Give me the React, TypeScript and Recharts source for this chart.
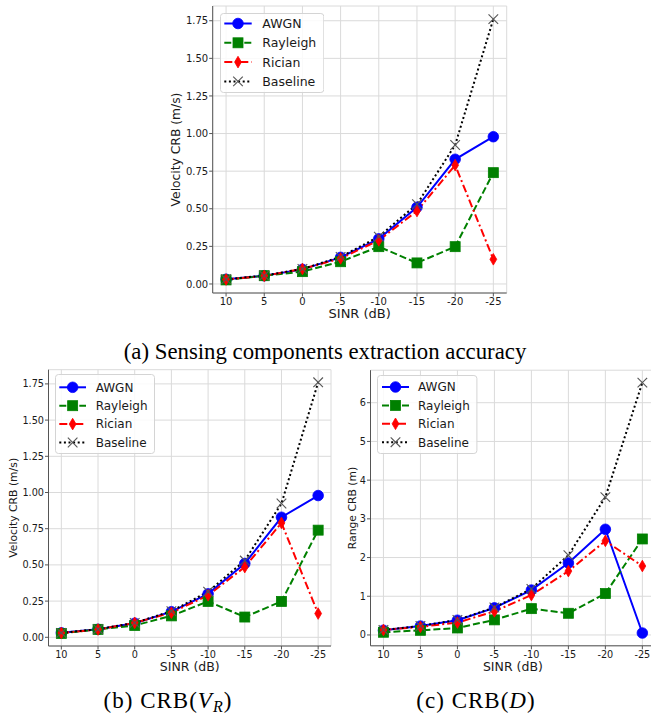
import React from 'react';
import { LineChart, Line, XAxis, YAxis, CartesianGrid, Legend, Label } from 'recharts';

// ---------- data ----------
const sinr = [10, 5, 0, -5, -10, -15, -20, -25];
const sinrTicks = [10, 5, 0, -5, -10, -15, -20, -25];

const velAwgn = [0.031, 0.055, 0.097, 0.177, 0.3, 0.51, 0.829, 0.979];
const velRayleigh = [0.027, 0.055, 0.082, 0.148, 0.248, 0.14, 0.248, 0.74];
const velRician = [0.03, 0.054, 0.1, 0.17, 0.29, 0.485, 0.79, 0.164];
const velBaseline = [0.031, 0.056, 0.1, 0.18, 0.315, 0.53, 0.924, 1.761];

const rngAwgn = [0.12, 0.23, 0.38, 0.7, 1.16, 1.86, 2.73, 0.05];
const rngRayleigh = [0.07, 0.12, 0.18, 0.39, 0.68, 0.56, 1.07, 2.48];
const rngRician = [0.13, 0.21, 0.32, 0.61, 1.03, 1.65, 2.43, 1.78];
const rngBaseline = [0.13, 0.23, 0.39, 0.71, 1.19, 2.06, 3.56, 6.52];

const velTicks = [0, 0.25, 0.5, 0.75, 1, 1.25, 1.5, 1.75];
const rngTicks = [0, 1, 2, 3, 4, 5, 6];

const seriesNames = ['AWGN', 'Rayleigh', 'Rician', 'Baseline'];

const velData = sinr.map((s, i) => ({
  sinr: s,
  awgn: velAwgn[i],
  rayleigh: velRayleigh[i],
  rician: velRician[i],
  baseline: velBaseline[i],
}));
const rngData = sinr.map((s, i) => ({
  sinr: s,
  awgn: rngAwgn[i],
  rayleigh: rngRayleigh[i],
  rician: rngRician[i],
  baseline: rngBaseline[i],
}));

// ---------- styles ----------
const FONT = 'DejaVu Sans';
const TEXT = '#1a1a1a';
const FRAME = '#555555';
const GRID = '#dadada';
const xDomain = [-26.75, 11.75];
const velDomain = [-0.06, 1.848];
const rngDomain = [-0.28, 6.84];

type Marker = 'circle' | 'square' | 'diamond' | 'x';
const series = [
  { key: 'awgn', name: seriesNames[0], color: '#0000ff', dash: undefined as string | undefined, marker: 'circle' as Marker },
  { key: 'rayleigh', name: seriesNames[1], color: '#008000', dash: '7 3', marker: 'square' as Marker },
  { key: 'rician', name: seriesNames[2], color: '#ff0000', dash: '8 3 2 3', marker: 'diamond' as Marker },
  { key: 'baseline', name: seriesNames[3], color: '#000000', dash: '2 2.6', marker: 'x' as Marker },
];

function drawMarker(m: Marker, cx: number, cy: number, color: string, key?: string) {
  if (cx == null || cy == null || isNaN(cx) || isNaN(cy)) return <g key={key} />;
  if (m === 'circle') return <circle key={key} cx={cx} cy={cy} r={5.3} fill={color} stroke={color} strokeWidth={0.8} />;
  if (m === 'square') return <rect key={key} x={cx - 5} y={cy - 5} width={10} height={10} fill={color} stroke={color} strokeWidth={0.8} />;
  if (m === 'diamond')
    return (
      <path key={key} d={`M${cx},${cy - 5.8} L${cx + 3.4},${cy} L${cx},${cy + 5.8} L${cx - 3.4},${cy} Z`} fill={color} stroke={color} strokeWidth={0.8} />
    );
  return (
    <g key={key}>
      <line x1={cx - 4.8} y1={cy - 4.8} x2={cx + 4.8} y2={cy + 4.8} stroke="#555" strokeWidth={1.1} />
      <line x1={cx - 4.8} y1={cy + 4.8} x2={cx + 4.8} y2={cy - 4.8} stroke="#555" strokeWidth={1.1} />
    </g>
  );
}

type LegendCfg = {
  left: number; top: number; w: number; h: number;
  row0: number; gap: number; lx0: number; lx1: number; tx: number; fs: number;
};

function LegendBox({ cfg }: { cfg: LegendCfg }) {
  return (
    <svg width={cfg.w} height={cfg.h} style={{ display: 'block' }}>
      <rect x={0.5} y={0.5} width={cfg.w - 1} height={cfg.h - 1} rx={3} ry={3} fill="#ffffff" fillOpacity={0.85} stroke="#d4d4d4" strokeWidth={1} />
      {series.map((s, i) => {
        const y = cfg.row0 + i * cfg.gap;
        const mx = (cfg.lx0 + cfg.lx1) / 2;
        return (
          <g key={s.key}>
            <line x1={cfg.lx0} x2={cfg.lx1} y1={y} y2={y} stroke={s.color} strokeWidth={2} strokeDasharray={s.dash} />
            {drawMarker(s.marker, mx, y, s.color)}
            <text x={cfg.tx} y={y} dy="0.36em" fontSize={cfg.fs} fill={TEXT} fontFamily={FONT}>
              {s.name}
            </text>
          </g>
        );
      })}
    </svg>
  );
}

type PanelProps = {
  data: any[];
  yDomain: number[];
  yTicks: number[];
  yFmt: (v: number) => string;
  yLabel: string;
  width: number;
  height: number;
  margin: { top: number; right: number; bottom: number; left: number };
  yAxisWidth: number;
  yLabelOffset: number;
  xLabelBase: number;
  tickFs: number;
  xLabelFs: number;
  yLabelFs: number;
  legend: LegendCfg;
};

function Panel(p: PanelProps) {
  const xLabel = (props: any) => {
    const vb = props.viewBox || {};
    return (
      <text
        x={vb.x + vb.width / 2}
        y={vb.y + p.xLabelBase}
        textAnchor="middle"
        fontSize={p.xLabelFs}
        fontFamily={FONT}
        fill={TEXT}
      >
        SINR (dB)
      </text>
    );
  };
  const yLabel = (props: any) => {
    const vb = props.viewBox || {};
    const cx = vb.x + p.yLabelOffset;
    const cy = vb.y + vb.height / 2;
    return (
      <text
        x={cx}
        y={cy}
        dy="0.36em"
        transform={`rotate(-90, ${cx}, ${cy})`}
        textAnchor="middle"
        fontSize={p.yLabelFs}
        fontFamily={FONT}
        fill={TEXT}
      >
        {p.yLabel}
      </text>
    );
  };
  return (
    <LineChart width={p.width} height={p.height} data={p.data} margin={p.margin}>
      <CartesianGrid stroke={GRID} strokeWidth={1} />
      <XAxis
        dataKey="sinr"
        type="number"
        domain={xDomain}
        allowDataOverflow
        reversed
        ticks={sinrTicks}
        interval={0}
        tickFormatter={(v: number) => String(v)}
        height={30}
        tickSize={3.5}
        tickMargin={1.5}
        axisLine={{ stroke: FRAME, strokeWidth: 1 }}
        tickLine={{ stroke: FRAME, strokeWidth: 1 }}
        tick={{ fill: TEXT, fontSize: p.tickFs, fontFamily: FONT }}
      >
        <Label content={xLabel} />
      </XAxis>
      <XAxis
        xAxisId="top"
        orientation="top"
        type="number"
        domain={xDomain}
        allowDataOverflow
        height={0}
        tick={false}
        tickLine={false}
        axisLine={{ stroke: FRAME, strokeWidth: 1 }}
      />
      <YAxis
        type="number"
        domain={p.yDomain}
        allowDataOverflow
        ticks={p.yTicks}
        interval={0}
        tickFormatter={p.yFmt}
        width={p.yAxisWidth}
        tickSize={3.5}
        tickMargin={1}
        axisLine={{ stroke: FRAME, strokeWidth: 1 }}
        tickLine={{ stroke: FRAME, strokeWidth: 1 }}
        tick={{ fill: TEXT, fontSize: p.tickFs, fontFamily: FONT }}
      >
        <Label content={yLabel} />
      </YAxis>
      <YAxis
        yAxisId="right"
        orientation="right"
        type="number"
        domain={p.yDomain}
        allowDataOverflow
        width={0}
        tick={false}
        tickLine={false}
        axisLine={{ stroke: FRAME, strokeWidth: 1 }}
      />
      {series.map((s) => (
        <Line
          key={s.key}
          dataKey={s.key}
          name={s.name}
          type="linear"
          stroke={s.color}
          strokeWidth={2}
          strokeDasharray={s.dash}
          isAnimationActive={false}
          dot={(props: any) => drawMarker(s.marker, props.cx, props.cy, s.color, `${s.key}-${props.index}`)}
          activeDot={false}
        />
      ))}
      <Legend
        layout="vertical"
        align="center"
        verticalAlign="middle"
        width={p.legend.w}
        height={p.legend.h}
        wrapperStyle={{ left: p.legend.left, top: p.legend.top, width: p.legend.w, height: p.legend.h }}
        content={() => <LegendBox cfg={p.legend} />}
      />
    </LineChart>
  );
}

const velFmt = (v: number) => v.toFixed(2);
const rngFmt = (v: number) => String(v);

export default function App() {
  return (
    <div style={{ position: 'absolute', left: 0, top: 0, width: 651, height: 717, overflow: 'hidden', background: '#ffffff' }}>
      {/* (a) */}
      <div style={{ position: 'absolute', left: 0, top: 0 }}>
        <Panel
          data={velData}
          yDomain={velDomain}
          yTicks={velTicks}
          yFmt={velFmt}
          yLabel="Velocity CRB (m/s)"
          width={651}
          height={330}
          margin={{ top: 6, right: 144.3, bottom: 7, left: 152.7 }}
          yAxisWidth={60}
          yLabelOffset={23.3}
          xLabelBase={25}
          tickFs={10}
          xLabelFs={13}
          yLabelFs={12.3}
          legend={{ left: 220, top: 12.7, w: 104.3, h: 80, row0: 10.5, gap: 19.3, lx0: 4.3, lx1: 31.7, tx: 42.3, fs: 12.5 }}
        />
      </div>
      {/* (b) */}
      <div style={{ position: 'absolute', left: 0, top: 330 }}>
        <Panel
          data={velData}
          yDomain={velDomain}
          yTicks={velTicks}
          yFmt={velFmt}
          yLabel="Velocity CRB (m/s)"
          width={340}
          height={350}
          margin={{ top: 39.7, right: 9, bottom: 4, left: 8.5 }}
          yAxisWidth={40}
          yLabelOffset={4.8}
          xLabelBase={25}
          tickFs={9.7}
          xLabelFs={12.5}
          yLabelFs={10.8}
          legend={{ left: 55, top: 44, w: 100, h: 80, row0: 13.3, gap: 18.4, lx0: 4.3, lx1: 31, tx: 40.7, fs: 12 }}
        />
      </div>
      {/* (c) */}
      <div style={{ position: 'absolute', left: 320, top: 330 }}>
        <Panel
          data={rngData}
          yDomain={rngDomain}
          yTicks={rngTicks}
          yFmt={rngFmt}
          yLabel="Range CRB (m)"
          width={345}
          height={350}
          margin={{ top: 40.2, right: 9.7, bottom: 4.2, left: 10.5 }}
          yAxisWidth={40}
          yLabelOffset={21.2}
          xLabelBase={25}
          tickFs={9.7}
          xLabelFs={12.5}
          yLabelFs={10.8}
          legend={{ left: 57.3, top: 45, w: 100.4, h: 79, row0: 12, gap: 18.4, lx0: 5, lx1: 32, tx: 41, fs: 12 }}
        />
      </div>
      {/* captions */}
      <svg width={651} height={717} style={{ position: 'absolute', left: 0, top: 0, pointerEvents: 'none' }}>
        <text x={325} y={359} textAnchor="middle" fontFamily="Liberation Serif" fontSize={22.8} fill="#000">
          (a) Sensing components extraction accuracy
        </text>
        <text x={168} y={708} textAnchor="middle" fontFamily="Liberation Serif" fontSize={23} fill="#000" letterSpacing={1}>
          (b) CRB(<tspan fontStyle="italic">V</tspan>
          <tspan fontStyle="italic" fontSize={16} dy={4}>R</tspan>
          <tspan dy={-4}>)</tspan>
        </text>
        <text x={476} y={708} textAnchor="middle" fontFamily="Liberation Serif" fontSize={23} fill="#000" letterSpacing={1}>
          (c) CRB(<tspan fontStyle="italic">D</tspan>)
        </text>
      </svg>
    </div>
  );
}
